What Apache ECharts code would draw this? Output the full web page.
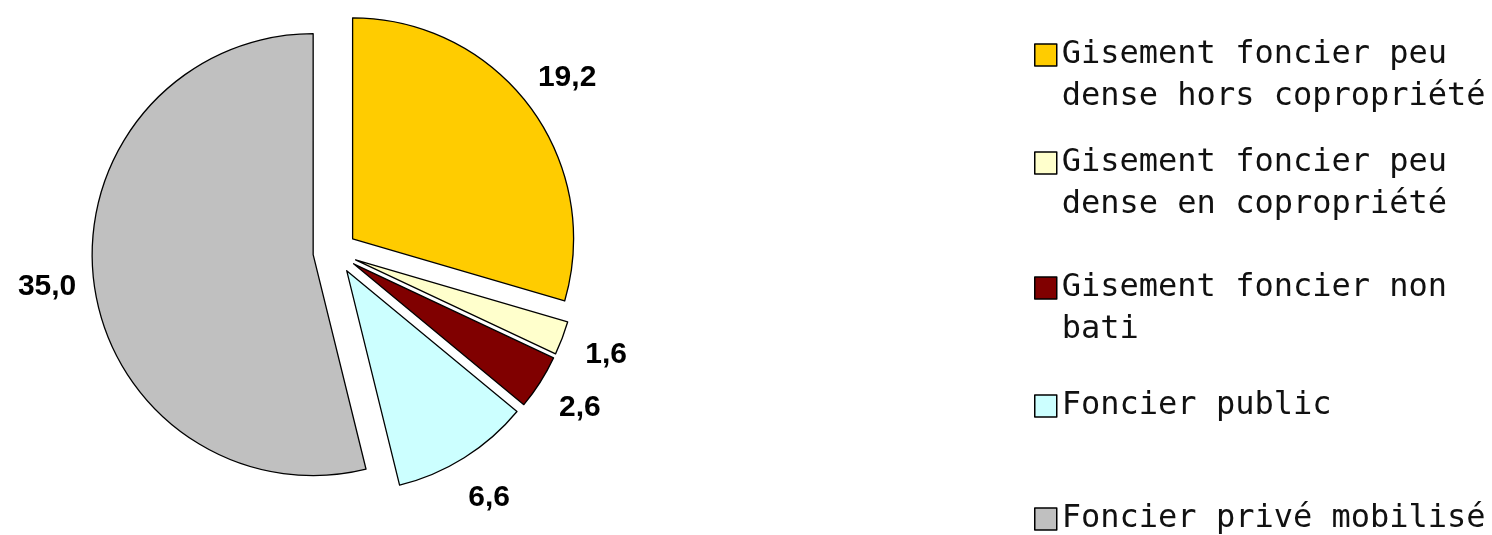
<!DOCTYPE html>
<html>
<head>
<meta charset="utf-8">
<script src="https://cdn.jsdelivr.net/npm/echarts@6/dist/echarts.min.js"></script>
<style>
html,body{margin:0;padding:0;background:#fff;}
#chart{width:1492px;height:535px;}
</style>
</head>
<body>
<div id="chart"></div>
<script>
// ---- data ----
const categories = [
  "Gisement foncier peu\ndense hors copropriété",
  "Gisement foncier peu\ndense en copropriété",
  "Gisement foncier non\nbati",
  "Foncier public",
  "Foncier privé mobilisé"
];
const values = [19.2, 1.6, 2.6, 6.6, 35.0];
const valueLabels = ["19,2", "1,6", "2,6", "6,6", "35,0"];
const colors = ["#FFCC00", "#FFFFCC", "#800000", "#CCFFFF", "#C0C0C0"];

// ---- layout ----
const pieCenter = [335, 252];
const pieRadius = 221;
const explode = 22;
const legendTops = [-8, 100, 225, 385, 498];
const legendLeft = 1034;
const lineH = 42;

const chart = echarts.init(document.getElementById('chart'), null, {renderer: 'canvas'});

const pieData = categories.map((c, i) => ({
  name: c,
  value: values[i],
  selected: true,
  itemStyle: {color: colors[i]}
}));
const labelData = categories.map((c, i) => ({
  name: c,
  value: values[i],
  selected: true,
  label: {formatter: valueLabels[i]}
}));

const legends = categories.map((c, i) => {
  const multi = c.indexOf('\n') >= 0;
  return {
    show: true,
    orient: 'vertical',
    left: legendLeft,
    top: legendTops[i],
    padding: 0,
    data: [c],
    selectedMode: false,
    icon: 'rect',
    itemWidth: 22,
    itemHeight: 22,
    itemStyle: {borderColor: '#000', borderWidth: 1.5},
    formatter: function (name) { return multi ? ' \n' + name : name; },
    textStyle: {
      fontFamily: 'DejaVu Sans Mono',
      fontSize: 32,
      lineHeight: lineH,
      color: '#111'
    }
  };
});

chart.setOption({
  animation: false,
  backgroundColor: '#fff',
  color: colors,
  legend: legends,
  series: [
    {
      type: 'pie',
      center: pieCenter,
      radius: [0, pieRadius],
      startAngle: 90,
      clockwise: true,
      selectedMode: 'multiple',
      selectedOffset: explode,
      silent: true,
      emphasis: {disabled: true},
      itemStyle: {borderColor: '#000', borderWidth: 1.3},
      label: {show: false},
      labelLine: {show: false},
      data: pieData
    },
    {
      type: 'pie',
      center: pieCenter,
      radius: [240, 290],
      startAngle: 90,
      clockwise: true,
      selectedMode: 'multiple',
      selectedOffset: explode,
      silent: true,
      emphasis: {disabled: true},
      itemStyle: {color: 'rgba(0,0,0,0)', borderWidth: 0},
      label: {
        show: true,
        position: 'inside',
        color: '#000',
        fontFamily: "'Liberation Sans', Arial, sans-serif",
        fontWeight: 'bold',
        fontSize: 30
      },
      labelLine: {show: false},
      data: labelData
    }
  ]
});
</script>
</body>
</html>
